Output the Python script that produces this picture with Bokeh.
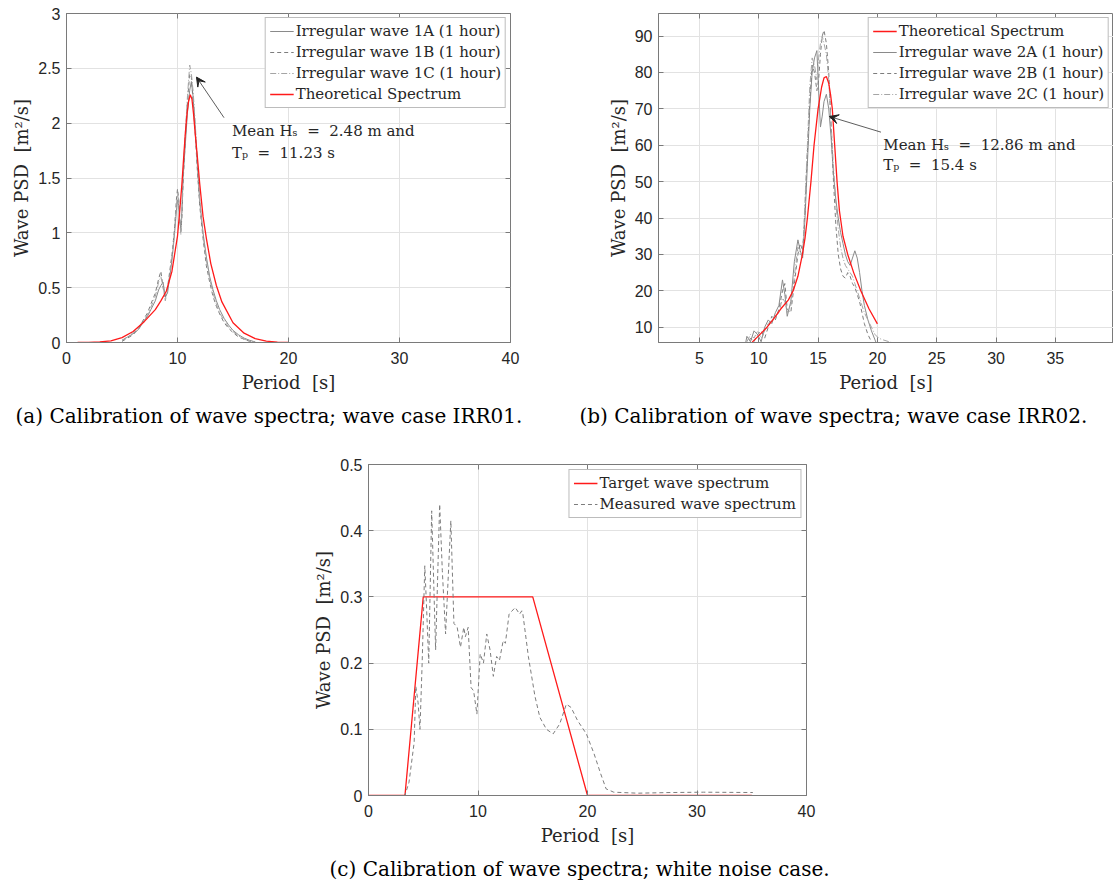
from bokeh.plotting import figure
from bokeh.layouts import column, row, Spacer
from bokeh.models import (Range1d, FixedTicker, CustomJSTickFormatter, Legend, LegendItem,
                          Title, Arrow, VeeHead, Label, LinearAxis)
from bokeh.embed import file_html
from bokeh.resources import INLINE

# ---------------- data: panel (a) IRR01 ----------------
period_a = [5.0, 5.5, 6.0, 6.5, 7.0, 7.3, 7.6, 8.0, 8.3, 8.5, 8.7, 8.9, 9.1, 9.3, 9.5, 9.7, 9.9, 10.0, 10.1, 10.2,
            10.3, 10.4, 10.5, 10.7, 10.9, 11.1, 11.25, 11.4, 11.6, 11.8, 12.0, 12.3, 12.6, 12.9, 13.2, 13.5, 13.8,
            14.2, 14.6, 15.0, 15.5, 16.0, 16.5, 17.0]
wave_1a = [0.02, 0.05, 0.08, 0.12, 0.2, 0.24, 0.3, 0.38, 0.48, 0.52, 0.55, 0.42, 0.45, 0.6, 0.75, 0.95, 1.2, 1.3,
           1.25, 1.1, 1.05, 1.2, 1.5, 1.8, 2.1, 2.3, 2.38, 2.25, 1.95, 1.6, 1.3, 1.0, 0.78, 0.6, 0.48, 0.38, 0.3,
           0.22, 0.16, 0.11, 0.07, 0.04, 0.02, 0.005]
wave_1b = [0.01, 0.04, 0.07, 0.13, 0.22, 0.27, 0.35, 0.45, 0.58, 0.65, 0.5, 0.4, 0.5, 0.65, 0.8, 1.0, 1.3, 1.4,
           1.32, 1.15, 1.0, 1.15, 1.45, 1.85, 2.2, 2.45, 2.42, 2.2, 1.9, 1.55, 1.25, 0.95, 0.7, 0.55, 0.42, 0.33,
           0.26, 0.18, 0.13, 0.09, 0.05, 0.03, 0.01, 0.003]
wave_1c = [0.02, 0.05, 0.09, 0.14, 0.21, 0.25, 0.32, 0.42, 0.55, 0.6, 0.52, 0.38, 0.48, 0.62, 0.78, 0.98, 1.25,
           1.35, 1.3, 1.12, 0.98, 1.18, 1.55, 1.9, 2.25, 2.53, 2.45, 2.3, 2.0, 1.62, 1.3, 0.98, 0.75, 0.58, 0.45,
           0.35, 0.27, 0.2, 0.14, 0.1, 0.06, 0.03, 0.015, 0.004]
theory_period_a = [1, 2, 3, 4, 5, 6, 7, 8, 8.5, 9, 9.5, 10, 10.2, 10.4, 10.55, 10.7, 10.85, 11.0, 11.15, 11.3,
                   11.45, 11.6, 11.8, 12.0, 12.3, 12.6, 13.0, 13.5, 14, 15, 16, 17, 18, 19, 20]
theory_a = [0, 0.001, 0.005, 0.015, 0.045, 0.1, 0.19, 0.3, 0.38, 0.47, 0.65, 0.97, 1.2, 1.45, 1.68, 1.9, 2.08,
            2.2, 2.26, 2.22, 2.08, 1.9, 1.68, 1.45, 1.15, 0.95, 0.72, 0.52, 0.37, 0.18, 0.085, 0.035, 0.012,
            0.003, 0]
xticks_a = [0, 10, 20, 30, 40]
yticks_a = [0, 0.5, 1, 1.5, 2, 2.5, 3]
note_a = ["Mean H\u209b\u00a0\u00a0=\u00a0\u00a02.48 m and", "T\u209a\u00a0\u00a0=\u00a0\u00a011.23 s"]

# ---------------- data: panel (b) IRR02 ----------------
period_b = [8.8, 9.0, 9.3, 9.6, 9.9, 10.2, 10.5, 10.8, 11.1, 11.4, 11.7, 12.0, 12.2, 12.4, 12.7, 13.0, 13.3, 13.5,
            13.7, 13.9, 14.1, 14.3, 14.5, 14.7, 14.9, 15.05, 15.2, 15.35, 15.5, 15.7, 15.9, 16.1, 16.3, 16.5, 16.7,
            16.9, 17.1, 17.3, 17.5, 17.7, 17.9, 18.1, 18.3, 18.5, 18.7, 18.9, 19.2, 19.5, 19.8, 20.1, 20.5, 21.0,
            21.5]
wave_2a = [4, 7.5, 6, 9, 8, 6, 10, 12, 11, 14, 16, 23, 19, 13, 17, 28, 34, 31, 29, 40, 55, 70, 80, 84, 86, 75, 65,
           68, 72, 74, 70, 62, 52, 45, 40, 36, 33, 30, 28, 27, 29, 31, 29, 25, 20, 16, 12, 9, 6.5, 4, 2, 1, 0.5]
wave_2b = [3, 5, 7, 6, 8, 9, 7, 10, 13, 12, 15, 20, 22, 15, 14, 22, 30, 33, 31, 42, 58, 72, 82, 80, 75, 78, 85,
           90, 91.6, 88, 80, 65, 50, 38, 30, 26, 24, 23.5, 25, 24, 22, 21, 19, 17, 14, 11, 8, 6, 4.5, 3, 2, 1, 0.5]
wave_2c = [3, 6, 8, 7, 9, 7, 9, 11, 12, 13, 14, 18, 17, 14, 16, 24, 32, 30, 30, 45, 60, 76, 84, 82, 78, 84, 88,
           90, 88, 85, 78, 66, 54, 44, 37, 32, 29, 27, 26, 25, 24, 22, 20, 18, 16, 14, 12, 10, 8, 7, 6.5, 6, 5.5]
theory_period_b = [9.45, 10, 10.7, 11.3, 11.85, 12.5, 12.9, 13.3, 13.68, 13.9, 14.1, 14.4, 14.66, 15.0, 15.3,
                   15.5, 15.7, 15.9, 16.05, 16.2, 16.4, 16.6, 16.8, 17.1, 17.5, 18.0, 18.6, 19.3, 20.0]
theory_b = [5.9, 7.7, 10, 12.5, 15, 17.5, 20, 24, 30, 34.5, 40, 50, 60, 70, 76, 78.5, 78.9, 77, 74, 70, 60, 50,
            42, 35, 30, 25, 20, 15, 10.9]
xticks_b = [5, 10, 15, 20, 25, 30, 35]
yticks_b = [10, 20, 30, 40, 50, 60, 70, 80, 90]
note_b = ["Mean H\u209b\u00a0\u00a0=\u00a0\u00a012.86 m and", "T\u209a\u00a0\u00a0=\u00a0\u00a015.4 s"]

# ---------------- data: panel (c) white noise ----------------
target_period_c = [0, 3.33, 5, 15, 20, 35]
target_c = [0, 0, 0.3, 0.3, 0, 0]
period_c = [0, 3.32, 3.7, 4.17, 4.32, 4.53, 4.7, 4.9, 5.14, 5.29, 5.5, 5.77, 6.13, 6.5, 6.74, 7.04, 7.52, 7.8,
            8.1, 8.4, 8.7, 8.85, 9.1, 9.37, 9.6, 9.9, 10.2, 10.5, 10.8, 11.1, 11.4, 11.7, 11.96, 12.3, 12.5, 12.84,
            13.4, 13.8, 14.0, 14.1, 14.6, 15.2, 15.65, 16.25, 16.86, 17.46, 18.07, 18.5, 19.1, 19.9, 20.6, 21.2,
            21.7, 22.4, 24.6, 27.6, 30.6, 35.1]
measured_c = [0, 0, 0.02, 0.08, 0.165, 0.14, 0.10, 0.2, 0.347, 0.29, 0.2, 0.43, 0.22, 0.44, 0.34, 0.244, 0.415,
              0.26, 0.254, 0.224, 0.254, 0.24, 0.254, 0.163, 0.158, 0.123, 0.214, 0.2, 0.244, 0.22, 0.18, 0.21,
              0.204, 0.234, 0.23, 0.274, 0.284, 0.274, 0.279, 0.274, 0.21, 0.15, 0.118, 0.10, 0.093, 0.108, 0.138,
              0.133, 0.113, 0.093, 0.063, 0.033, 0.01, 0.005, 0.0035, 0.0045, 0.005, 0.0045]
xticks_c = [0, 10, 20, 30, 40]
yticks_c = [0, 0.1, 0.2, 0.3, 0.4, 0.5]

captions = ["(a) Calibration of wave spectra; wave case IRR01.",
            "(b) Calibration of wave spectra; wave case IRR02.",
            "(c) Calibration of wave spectra; white noise case."]

# ---------------- styling ----------------
SERIF = "DejaVu Serif"
SANS = "Liberation Sans"
AX = "#7a7a7a"
TXT = "#262626"
RED = "#ff1a1a"
G1, G2, G3 = "#8a8a8a", "#7d7d7d", "#a5a5a5"
NB = "\u00a0"
XLAB = "Period" + NB * 2 + "[s]"
YLAB = "Wave PSD" + NB * 2 + "[m\u00b2/s]"


def make_fig(xr, yr, fw, fh, bl, br, bt, bb):
    p = figure(x_range=Range1d(*xr), y_range=Range1d(*yr), frame_width=fw, frame_height=fh,
               min_border_left=bl, min_border_right=br, min_border_top=bt, min_border_bottom=bb,
               output_backend="svg", toolbar_location=None)
    return p


def box_axis(ticks):
    return LinearAxis(ticker=FixedTicker(ticks=ticks), formatter=CustomJSTickFormatter(code="return '';"),
                      axis_line_color=None, major_tick_line_color=AX, major_tick_in=5, major_tick_out=0,
                      minor_tick_line_color=None, major_label_standoff=0, major_label_text_font_size="1px")


def style(p, xticks, yticks, right=True):
    p.xaxis.ticker = FixedTicker(ticks=xticks)
    p.yaxis.ticker = FixedTicker(ticks=yticks)
    fmt = "return String(Math.round(tick*1000)/1000);"
    for ax in (p.xaxis[0], p.yaxis[0]):
        ax.formatter = CustomJSTickFormatter(code=fmt)
        ax.axis_line_color = AX
        ax.major_tick_line_color = AX
        ax.major_tick_in = 5
        ax.major_tick_out = 0
        ax.minor_tick_line_color = None
        ax.major_label_text_font = SANS
        ax.major_label_text_font_size = "16px"
        ax.major_label_text_color = TXT
        ax.axis_label_text_font = SERIF
        ax.axis_label_text_font_size = "18px"
        ax.axis_label_text_font_style = "normal"
        ax.axis_label_text_color = TXT
    p.xaxis.axis_label_standoff = 5
    p.yaxis.axis_label_standoff = 3
    p.xaxis.major_label_standoff = 9
    p.yaxis.major_label_standoff = 6
    p.xaxis.axis_label = XLAB
    p.yaxis.axis_label = YLAB
    p.add_layout(box_axis(xticks), "above")
    if right:
        p.add_layout(box_axis(yticks), "right")
    p.grid.grid_line_color = "#e2e2e2"
    p.outline_line_color = AX
    p.outline_line_alpha = 1
    p.background_fill_color = "white"
    p.border_fill_color = "white"


def add_legend(p, items, margin):
    leg = Legend(items=items, location="top_right")
    leg.label_text_font = SERIF
    leg.label_text_font_size = "15px"
    leg.label_text_color = TXT
    leg.glyph_width = 24
    leg.glyph_height = 18
    leg.label_height = 18
    leg.label_standoff = 2
    leg.spacing = 3
    leg.padding = 4
    leg.margin = margin
    leg.border_line_color = AX
    leg.border_line_width = 1
    leg.background_fill_alpha = 1
    p.add_layout(leg)


def add_caption(p, text, offset):
    t = Title(text=text, align="left", text_font=SERIF, text_font_size="20px",
              text_font_style="normal", text_color="black", offset=offset, standoff=12)
    p.add_layout(t, "below")


def add_note(p, tail, head, pos, lines, dy):
    p.add_layout(Arrow(end=VeeHead(size=9, fill_color="#222222", line_color="#222222", line_width=1),
                       x_start=tail[0], y_start=tail[1], x_end=head[0], y_end=head[1],
                       line_color="#333333", line_width=0.8))
    for i, s in enumerate(lines):
        p.add_layout(Label(x=pos[0], y=pos[1] - i * dy, text=s, text_font=SERIF, text_font_size="15px",
                           text_color=TXT, text_baseline="middle"))


# ---------------- panel (a) ----------------
pa = make_fig((0, 40), (0, 3), 444, 329, 66, 46, 13, 95)
style(pa, xticks_a, yticks_a)
ra = pa.line(period_a, wave_1a, line_color=G1, line_width=1)
rb = pa.line(period_a, wave_1b, line_color=G2, line_width=1, line_dash="4 3")
rc = pa.line(period_a, wave_1c, line_color=G3, line_width=1, line_dash="6 2 1 2")
rt = pa.line(theory_period_a, theory_a, line_color=RED, line_width=1.3)
add_legend(pa, [LegendItem(label="Irregular wave 1A (1 hour)", renderers=[ra]),
                LegendItem(label="Irregular wave 1B (1 hour)", renderers=[rb]),
                LegendItem(label="Irregular wave 1C (1 hour)", renderers=[rc]),
                LegendItem(label="Theoretical Spectrum", renderers=[rt])], 4)
add_note(pa, (14.19, 2.05), (11.71, 2.42), (14.9, 1.93), note_a, 0.2)
add_caption(pa, captions[0], -51)

# ---------------- panel (b) ----------------
pb = make_fig((1.55, 39.9), (5.8, 96.2), 455, 329, 102, 0, 13, 95)
style(pb, xticks_b, yticks_b, right=False)
sa = pb.line(period_b, wave_2a, line_color=G1, line_width=1)
sb = pb.line(period_b, wave_2b, line_color=G2, line_width=1, line_dash="4 3")
sc = pb.line(period_b, wave_2c, line_color=G3, line_width=1, line_dash="6 2 1 2")
st = pb.line(theory_period_b, theory_b, line_color=RED, line_width=1.3)
add_legend(pb, [LegendItem(label="Theoretical Spectrum", renderers=[st]),
                LegendItem(label="Irregular wave 2A (1 hour)", renderers=[sa]),
                LegendItem(label="Irregular wave 2B (1 hour)", renderers=[sb]),
                LegendItem(label="Irregular wave 2C (1 hour)", renderers=[sc])], 4)
add_note(pb, (20.3, 63.6), (15.95, 67.9), (20.5, 60.2), note_b, 5.7)
add_caption(pb, captions[1], -79)

# ---------------- panel (c) ----------------
pc = make_fig((0, 40), (0, 0.5), 438, 331, 68, 40, 27, 89)
style(pc, xticks_c, yticks_c)
ct = pc.line(target_period_c, target_c, line_color=RED, line_width=1.3)
cm = pc.line(period_c, measured_c, line_color=G2, line_width=1, line_dash="4 3")
add_legend(pc, [LegendItem(label="Target wave spectrum", renderers=[ct]),
                LegendItem(label="Measured wave spectrum", renderers=[cm])], 5)
add_caption(pc, captions[2], -39)

layout = column(row(pa, pb), row(Spacer(width=300, height=10), pc))
open("out.html", "w").write(file_html(layout, INLINE))
